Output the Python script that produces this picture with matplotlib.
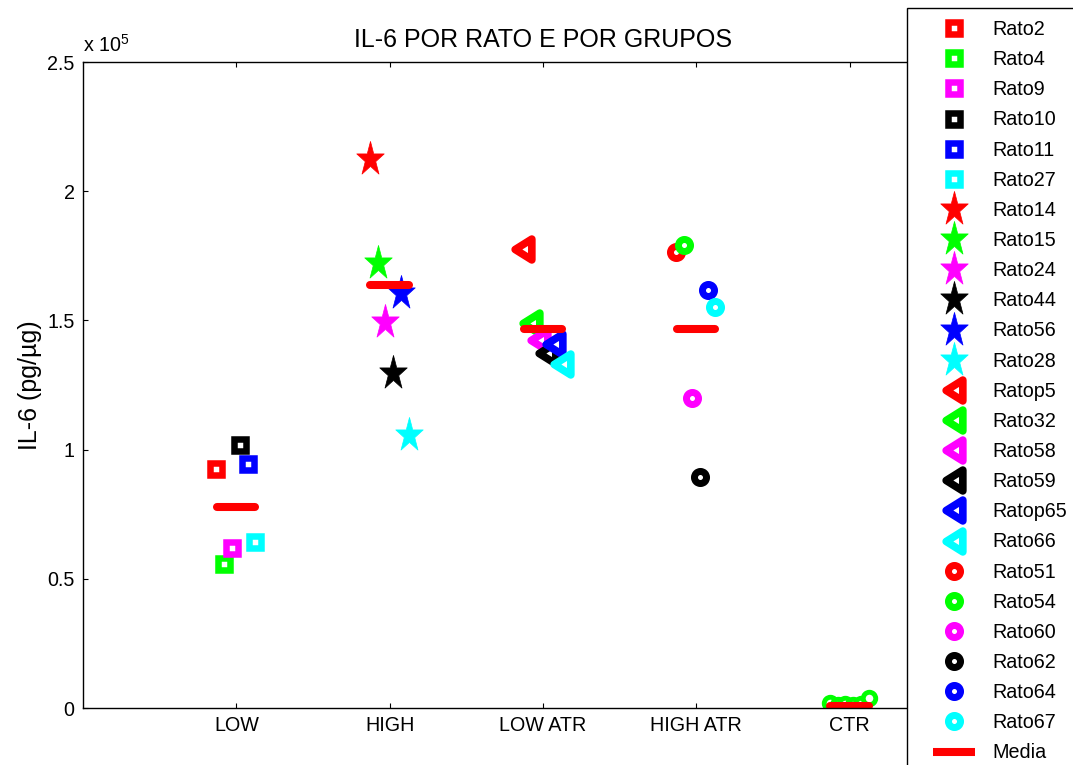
import numpy as np
import matplotlib
matplotlib.use('Agg')
import matplotlib.pyplot as plt
from matplotlib.path import Path
from matplotlib.markers import MarkerStyle
from matplotlib.lines import Line2D
from matplotlib.patches import Rectangle

plt.rcParams['font.family'] = ['Liberation Sans', 'DejaVu Sans']
plt.rcParams['mathtext.fontset'] = 'custom'
plt.rcParams['mathtext.rm'] = 'Liberation Sans'

# ---------------- data ----------------
groups = ['LOW', 'HIGH', 'LOW ATR', 'HIGH ATR', 'CTR']

low_names = ['Rato2', 'Rato4', 'Rato9', 'Rato10', 'Rato11', 'Rato27']
low_vals = [92400, 55600, 61900, 101800, 94300, 64400]

high_names = ['Rato14', 'Rato15', 'Rato24', 'Rato44', 'Rato56', 'Rato28']
high_vals = [212300, 172300, 149500, 129500, 160500, 105600]

lowatr_names = ['Ratop5', 'Rato32', 'Rato58', 'Rato59', 'Ratop65', 'Rato66']
lowatr_vals = [177700, 149100, 142400, 137300, 140900, 133100]

highatr_names = ['Rato51', 'Rato54', 'Rato60', 'Rato62', 'Rato64', 'Rato67']
highatr_vals = [176600, 179200, 119800, 89300, 161600, 155300]

ctr_vals = [1900, 1200, 1500, 1000, 1400, 3700]

media = [77800, 163800, 146500, 146500, 900]

colors = ['#ff0000', '#00ff00', '#ff00ff', '#000000', '#0000ff', '#00ffff']

ytick_vals = [0, 50000, 100000, 150000, 200000, 250000]
ytick_labels = ['0', '0.5', '1', '1.5', '2', '2.5']

# ---------------- marker shapes ----------------
ang = np.deg2rad(90 + 36 * np.arange(10))
rad = np.where(np.arange(10) % 2 == 0, 1.0, 0.382)
star_verts = np.column_stack([rad * np.cos(ang), 1.25 * rad * np.sin(ang)])
star_verts = np.vstack([star_verts, star_verts[:1]])
star_marker = MarkerStyle(Path(star_verts, closed=True), joinstyle='miter')

tri_verts = np.array([[-0.8, 0.0], [0.8, 1.0], [0.8, -1.0], [-0.8, 0.0]])
tri_marker = MarkerStyle(Path(tri_verts, closed=True), joinstyle='miter')

W, H = 1073, 765
fig = plt.figure(figsize=(W / 100, H / 100), dpi=100)
ax = fig.add_axes([83 / W, 1 - 708 / H, 920 / W, (708 - 62) / H])
ax.set_xlim(0, 6)
ax.set_ylim(0, 250000)

offsets = np.linspace(-0.13, 0.125, 6)
handles = []

sq_kw = dict(marker='s', ms=9, mew=4.7, mfc='none', ls='none')
for i, (n, v) in enumerate(zip(low_names, low_vals)):
    h, = ax.plot(1 + offsets[i], v, color=colors[i], mec=colors[i], label=n, **sq_kw)
    handles.append(h)

for i, (n, v) in enumerate(zip(high_names, high_vals)):
    h, = ax.plot(2 + offsets[i], v, marker=star_marker, ms=26, mew=0.5, ls='none',
                 color=colors[i], mfc=colors[i], mec=colors[i], label=n)
    handles.append(h)

for i, (n, v) in enumerate(zip(lowatr_names, lowatr_vals)):
    h, = ax.plot(3 + offsets[i], v, marker=tri_marker, ms=15, mew=5.5, ls='none',
                 color=colors[i], mfc='white', mec=colors[i], label=n)
    handles.append(h)

for i, (n, v) in enumerate(zip(highatr_names, highatr_vals)):
    h, = ax.plot(4 + offsets[i], v, marker='o', ms=8.7, mew=5, ls='none',
                 color=colors[i], mfc='white', mec=colors[i], label=n)
    handles.append(h)

for i, v in enumerate(ctr_vals):
    ax.plot(5 + offsets[i], v, marker='o', ms=9, mew=3.5, ls='none',
            mfc='white', mec='#00ff00')

for g, m in enumerate(media):
    ax.plot([g + 1 - 0.125, g + 1 + 0.125], [m, m], color='#ff0000', lw=5.8,
            solid_capstyle='round')
handles.append(Line2D([], [], color='#ff0000', lw=5.8, solid_capstyle='butt'))
labels = low_names + high_names + lowatr_names + highatr_names + ['Media']

ax.set_xticks([1, 2, 3, 4, 5])
ax.set_xticklabels(groups)
ax.set_yticks(ytick_vals)
ax.set_yticklabels(ytick_labels)
ax.tick_params(direction='in', length=3.6, width=0.8, top=True, right=True,
               labelsize=14.2, colors='black', pad=6)
for s in ax.spines.values():
    s.set_linewidth(1.0)

ax.set_title('IL-6 POR RATO E POR GRUPOS', fontsize=18, pad=11)
fig.text(30 / W, 1 - 385 / H, 'IL-6 (pg/µg)', rotation=90, ha='center', va='center',
         fontsize=18)
fig.text(83 / W, 1 - 52 / H, r'x 10$^{5}$', ha='left', va='baseline', fontsize=14.2)

# legend frame (extends past figure bottom, like the reference)
frame = Rectangle((907 / W, -20 / H), 200 / W, (20 + 757) / H, transform=fig.transFigure,
                  facecolor='white', edgecolor='black', lw=1.0, zorder=4)
fig.add_artist(frame)
leg = fig.legend(handles, labels, loc='upper left',
                 bbox_to_anchor=(933 / W, 1 - 20 / H), bbox_transform=fig.transFigure,
                 borderaxespad=0, borderpad=0, frameon=False, fontsize=14.2,
                 handlelength=2.13, handletextpad=0.86, labelspacing=0.565, numpoints=1)
leg.set_zorder(5)

fig.savefig('out.png', dpi=100)
